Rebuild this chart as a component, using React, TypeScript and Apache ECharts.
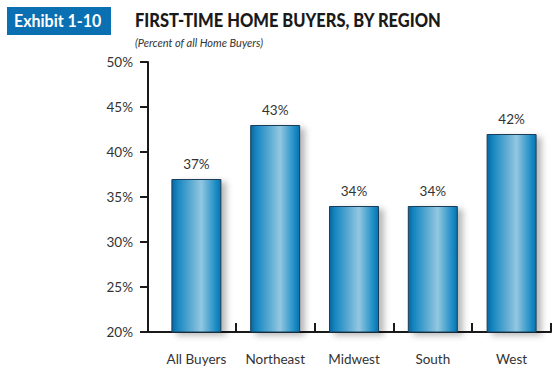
import React, { useEffect, useRef } from "react";
import * as echarts from "echarts";

const categories = ["All Buyers", "Northeast", "Midwest", "South", "West"];
const values = [37, 43, 34, 34, 42];
const yTicks = { min: 20, max: 50, interval: 5 };

export default function App() {
  const ref = useRef<HTMLDivElement>(null);
  useEffect(() => {
    if (!ref.current) return;
    const chart = echarts.init(ref.current, null, { renderer: "svg" });
    const barGradient = new echarts.graphic.LinearGradient(0, 0, 1, 0, [
      { offset: 0, color: "#0867a0" },
      { offset: 0.12, color: "#1787c2" },
      { offset: 0.6, color: "#93c7e0" },
      { offset: 0.9, color: "#1a8cc6" },
      { offset: 1, color: "#0a72ad" },
    ]);
    chart.setOption({
      animation: false,
      backgroundColor: "#ffffff",
      grid: { left: 157, right: 9, top: 62, bottom: 43 },
      xAxis: {
        type: "category",
        data: categories,
        axisLine: { lineStyle: { color: "#1a1a1a", width: 2 } },
        axisTick: {
          show: true,
          inside: true,
          length: 9,
          interval: (idx: number) => idx !== 0,
          lineStyle: { color: "#1a1a1a", width: 2 },
        },
        axisLabel: {
          margin: 20,
          color: "#333",
          fontFamily: "Lato",
          fontSize: 13.5,
        },
      },
      yAxis: {
        type: "value",
        min: yTicks.min,
        max: yTicks.max,
        interval: yTicks.interval,
        offset: 9,
        axisLine: { show: true, lineStyle: { color: "#1a1a1a", width: 2 } },
        axisTick: { show: true, length: 8, lineStyle: { color: "#1a1a1a", width: 2 } },
        splitLine: { show: false },
        axisLabel: {
          margin: 15,
          color: "#333",
          fontFamily: "Lato",
          fontSize: 13.5,
          formatter: "{value}%",
        },
      },
      graphic: [
        {
          type: "line",
          shape: { x1: 147, y1: 332, x2: 158, y2: 332 },
          style: { stroke: "#1a1a1a", lineWidth: 2 },
        },
        {
          type: "rect",
          shape: { x: 7, y: 7, width: 104, height: 28 },
          style: { fill: "#0b70b2" },
        },
        {
          type: "text",
          x: 14,
          y: 21,
          scaleX: 0.94,
          style: {
            text: "Exhibit 1-10",
            fill: "#ffffff",
            font: "bold 17px Lato",
            verticalAlign: "middle",
          },
        },
        {
          type: "text",
          x: 135,
          y: 20,
          scaleX: 0.915,
          style: {
            text: "FIRST-TIME HOME BUYERS, BY REGION",
            fill: "#1a1a1a",
            font: "900 18px Lato",
            verticalAlign: "middle",
          },
        },
        {
          type: "text",
          x: 135,
          y: 42,
          style: {
            text: "(Percent of all Home Buyers)",
            fill: "#333",
            font: "italic 11px Lato",
            verticalAlign: "middle",
          },
        },
      ],
      series: [
        {
          type: "bar",
          data: values,
          barWidth: 50,
          itemStyle: {
            color: barGradient,
            borderColor: "#1d3d55",
            borderWidth: 1,
            shadowBlur: 6,
            shadowOffsetX: 5,
            shadowOffsetY: 3,
            shadowColor: "rgba(0,0,0,0.28)",
          },
          label: {
            show: true,
            position: "top",
            distance: 8,
            formatter: "{c}%",
            color: "#333",
            fontFamily: "Lato",
            fontSize: 13.5,
          },
        },
      ],
    });
    return () => chart.dispose();
  }, []);
  return <div ref={ref} style={{ width: 560, height: 375, position: "absolute", left: 0, top: 0 }} />;
}
